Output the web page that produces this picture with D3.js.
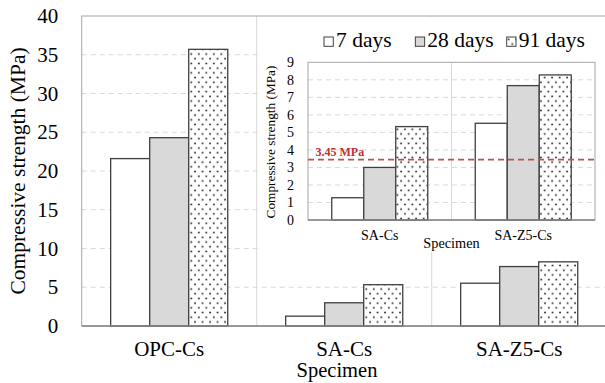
<!DOCTYPE html>
<html><head><meta charset="utf-8">
<script src="https://cdn.jsdelivr.net/npm/d3@7"></script>
<style>
html,body{margin:0;padding:0;background:#fff;overflow:hidden}
</style></head>
<body><svg id="c" width="605" height="383"></svg>
<script>
const categories = ["OPC-Cs", "SA-Cs", "SA-Z5-Cs"];
const seriesNames = ["7 days", "28 days", "91 days"];
const days7 = [21.6, 1.27, 5.52];
const days28 = [24.3, 3.0, 7.67];
const days91 = [35.7, 5.33, 8.28];
const mainTicks = [0, 5, 10, 15, 20, 25, 30, 35, 40];
const insetCategories = ["SA-Cs", "SA-Z5-Cs"];
const insetTicks = [0, 1, 2, 3, 4, 5, 6, 7, 8, 9];
const threshold = 3.45;
const thresholdLabel = "3.45 MPa";
const yTitle = "Compressive strength (MPa)";
const xTitle = "Specimen";

const FONT = "'Liberation Serif', 'Times New Roman', Times, serif";
const seriesValues = [days7, days28, days91];
const svg = d3.select("#c").style("font-family", FONT);

// pattern
const defs = svg.append("defs");
const pat = defs.append("pattern").attr("id", "dots").attr("patternUnits", "userSpaceOnUse")
  .attr("width", 7.5).attr("height", 9.4);
pat.append("rect").attr("width", 7.5).attr("height", 9.4).attr("fill", "#fff");
pat.append("circle").attr("cx", 1.9).attr("cy", 2.3).attr("r", 0.9).attr("fill", "#1a1a1a");
pat.append("circle").attr("cx", 5.65).attr("cy", 7.0).attr("r", 0.9).attr("fill", "#1a1a1a");

const fills = ["#ffffff", "#d9d9d9", "url(#dots)"];
const barStroke = "#404040";

function rowsFor(cats, idxs) {
  return idxs.map((ci, k) => ({
    cat: cats[k],
    vals: seriesValues.map((s, si) => ({ s: seriesNames[si], v: s[ci], fill: fills[si] }))
  }));
}

function styleText(sel, fs) {
  sel.style("font-family", FONT).style("font-size", fs + "px").style("fill", "#000");
}

function drawChart(g, opt) {
  const { left, right, top, bottom, cats, rows, ticks, yMax, fs, tickPad, xPad } = opt;
  const x0 = d3.scaleBand().domain(cats).range([left, right]).paddingInner(0.331).paddingOuter(0.1655);
  const step = x0.step();
  const x1 = d3.scaleBand().domain(seriesNames).range([0, x0.bandwidth()]);
  const y = d3.scaleLinear().domain([0, yMax]).range([bottom, top]);

  g.append("g").selectAll("line").data(ticks.filter(t => t > 0 && t < yMax)).join("line")
    .attr("x1", left).attr("x2", right).attr("y1", d => y(d)).attr("y2", d => y(d))
    .attr("stroke", "#d9d9d9").attr("stroke-width", 1).attr("stroke-dasharray", "5,4");
  g.append("g").selectAll("line").data(cats.slice(1)).join("line")
    .attr("x1", d => x0(d) - (step - x0.bandwidth()) / 2).attr("x2", d => x0(d) - (step - x0.bandwidth()) / 2)
    .attr("y1", top).attr("y2", bottom).attr("stroke", "#d9d9d9").attr("stroke-width", 1);
  g.append("rect").attr("x", left).attr("y", top).attr("width", right - left).attr("height", bottom - top)
    .attr("fill", "none").attr("stroke", "#a6a6a6").attr("stroke-width", 1);

  const grp = g.append("g").selectAll("g").data(rows).join("g")
    .attr("transform", d => `translate(${x0(d.cat)},0)`);
  grp.selectAll("rect").data(d => d.vals).join("rect")
    .attr("x", d => x1(d.s)).attr("width", x1.bandwidth())
    .attr("y", d => y(d.v)).attr("height", d => y(0) - y(d.v))
    .attr("fill", d => d.fill).attr("stroke", barStroke).attr("stroke-width", 1.3);

  g.append("line").attr("x1", left).attr("x2", right).attr("y1", y(0)).attr("y2", y(0))
    .attr("stroke", "#858585").attr("stroke-width", 1.6);

  const ya = g.append("g").attr("transform", `translate(${left},0)`)
    .call(d3.axisLeft(y).tickValues(ticks).tickSize(0).tickPadding(tickPad).tickFormat(d3.format("d")));
  ya.select(".domain").remove();
  ya.attr("font-family", null).attr("font-size", null);
  styleText(ya.selectAll("text"), fs);

  const xa = g.append("g").attr("transform", `translate(0,${y(0)})`)
    .call(d3.axisBottom(x0).tickSize(0).tickPadding(xPad));
  xa.select(".domain").remove();
  xa.attr("font-family", null).attr("font-size", null);
  styleText(xa.selectAll("text"), fs);
  return { x0, y };
}

// main chart
const main = svg.append("g");
drawChart(main, {
  left: 81.7, right: 606.7, top: 16, bottom: 326,
  cats: categories, rows: rowsFor(categories, [0, 1, 2]), ticks: mainTicks, yMax: 40,
  fs: 21, tickPad: 23.5, xPad: 15.5
});
styleText(main.append("text").attr("transform", "translate(25,171) rotate(-90)")
  .attr("text-anchor", "middle").text(yTitle), 21.5);
styleText(main.append("text").attr("x", 337).attr("y", 377).attr("text-anchor", "middle")
  .text(xTitle), 20.5);

// inset
const inset = svg.append("g");
inset.append("rect").attr("x", 258.5).attr("y", 17).attr("width", 350).attr("height", 235).attr("fill", "#fff");
const ins = drawChart(inset, {
  left: 308, right: 595, top: 62.3, bottom: 220,
  cats: insetCategories, rows: rowsFor(insetCategories, [1, 2]), ticks: insetTicks, yMax: 9,
  fs: 14, tickPad: 14, xPad: 10
});
styleText(inset.append("text").attr("transform", "translate(275,142) rotate(-90)")
  .attr("text-anchor", "middle").text(yTitle), 13.3);
styleText(inset.append("text").attr("x", 451.5).attr("y", 248.3).attr("text-anchor", "middle")
  .text(xTitle), 14.3);
inset.append("line").attr("x1", 308).attr("x2", 595).attr("y1", ins.y(threshold)).attr("y2", ins.y(threshold))
  .attr("stroke", "#c0504d").attr("stroke-width", 1.8).attr("stroke-dasharray", "6,4");
const thr = inset.append("text").attr("x", 315.5).attr("y", ins.y(threshold) - 3.5).text(thresholdLabel);
styleText(thr, 12);
thr.style("font-weight", "bold").style("fill", "#c0302f");

// legend
const legX = d3.scalePoint().domain(seriesNames).range([324, 506.7]);
const leg = inset.append("g").selectAll("g").data(seriesNames).join("g")
  .attr("transform", d => `translate(${legX(d)},37)`);
leg.append("rect").attr("width", 9.3).attr("height", 9.3)
  .attr("fill", (d, i) => fills[i]).attr("stroke", barStroke).attr("stroke-width", 1);
styleText(leg.append("text").attr("x", 12).attr("y", 9.6).text(d => d), 21.5);
</script></body></html>
